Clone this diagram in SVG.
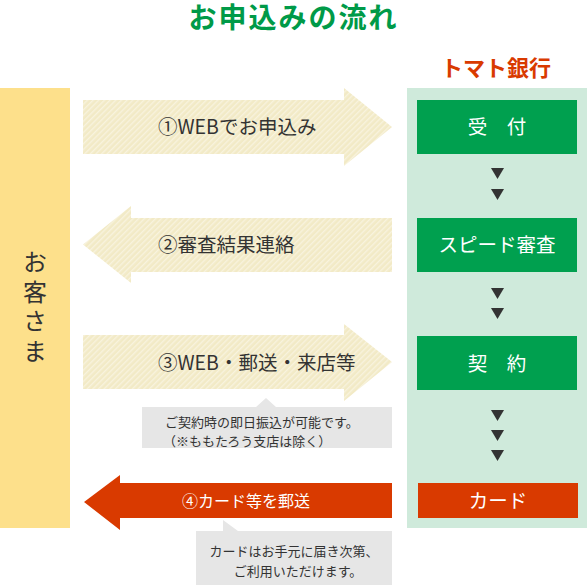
<svg xmlns="http://www.w3.org/2000/svg" width="587" height="585" viewBox="0 0 587 585">
  <style>
    text { font-family: "Noto Sans CJK JP", "Noto Sans", sans-serif; }
    .title { font-size: 28px; font-weight: bold; fill: #009a48; }
    .bank { font-size: 22px; font-weight: bold; fill: #d93a00; }
    .cust { font-size: 24px; fill: #333333; }
    .lbl { font-size: 19.5px; fill: #333333; }
    .wlbl { font-size: 16px; fill: #ffffff; }
    .note { font-size: 13px; fill: #333333; }
    .step { font-size: 19.5px; fill: #ffffff; }
    .gbox { fill: #00a04f; }
    .rbox { fill: #d93a00; }
    .light { fill: url(#stripes); }
    .callout { fill: #e6e6e6; }
    .tri { fill: #333333; }
  </style>
  <defs>
    <pattern id="stripes" width="4" height="4" patternUnits="userSpaceOnUse" patternTransform="rotate(45)">
      <rect width="4" height="4" fill="#f2eac6"/>
      <rect width="1.4" height="4" fill="#f8f3de"/>
    </pattern>
    <polygon id="down" points="-6.5,0 6.5,0 0,11"/>
  </defs>

  <text class="title" x="293.5" y="28" text-anchor="middle" letter-spacing="2">お申込みの流れ</text>

  <g id="customer">
    <rect x="0" y="88" width="70" height="440" fill="#fde08b"/>
    <text class="cust" x="35" y="250" writing-mode="tb" letter-spacing="5.5">お客さま</text>
  </g>

  <g id="bank">
    <rect x="407" y="88" width="180" height="440" fill="#cfeadb"/>
    <text class="bank" x="496" y="76" text-anchor="middle">トマト銀行</text>
  </g>

  <g id="step-uketsuke">
    <rect class="gbox" x="417" y="100" width="160" height="54"/>
    <text class="step" x="497" y="134" text-anchor="middle">受　付</text>
  </g>
  <g id="step-shinsa">
    <rect class="gbox" x="417" y="218" width="160" height="54"/>
    <text class="step" x="497" y="252" text-anchor="middle">スピード審査</text>
  </g>
  <g id="step-keiyaku">
    <rect class="gbox" x="417" y="336" width="160" height="54"/>
    <text class="step" x="497" y="371" text-anchor="middle">契　約</text>
  </g>
  <g id="step-card">
    <rect class="rbox" x="418" y="483" width="160" height="35"/>
    <text class="step" x="498" y="508" text-anchor="middle" font-size="19">カード</text>
  </g>

  <g id="connectors">
    <use href="#down" class="tri" x="497.5" y="168"/>
    <use href="#down" class="tri" x="497.5" y="189"/>
    <use href="#down" class="tri" x="497.5" y="288"/>
    <use href="#down" class="tri" x="497.5" y="308"/>
    <use href="#down" class="tri" x="497.5" y="410"/>
    <use href="#down" class="tri" x="497.5" y="430"/>
    <use href="#down" class="tri" x="497.5" y="450"/>
  </g>

  <g id="arrow1">
    <polygon class="light" points="83,100 344,100 344,88 392,127 344,166 344,154 83,154"/>
    <text class="lbl" x="158" y="134">①WEBでお申込み</text>
  </g>
  <g id="arrow2">
    <polygon class="light" points="392,218 131,218 131,206 83,244.5 131,283 131,272 392,272"/>
    <text class="lbl" x="158" y="252">②審査結果連絡</text>
  </g>
  <g id="arrow3">
    <polygon class="light" points="83,335 344,335 344,324 392,362 344,401 344,389 83,389"/>
    <text class="lbl" x="158" y="370">③WEB・郵送・来店等</text>
  </g>
  <g id="note3">
    <polygon class="callout" points="142,407 256,407 266,398 276,407 392,407 392,448 142,448"/>
    <text class="note"><tspan x="165" y="427">ご契約時の即日振込が可能です。</tspan><tspan x="163" y="446">（※ももたろう支店は除く）</tspan></text>
  </g>
  <g id="arrow4">
    <polygon class="rbox" points="392,483 120,483 120,475 84,502 120,530 120,518 392,518"/>
    <text class="wlbl" x="182" y="507">④カード等を郵送</text>
  </g>
  <g id="note4">
    <polygon class="callout" points="196,531 223,531 223,520 238,531 392,531 392,585 196,585"/>
    <text class="note" text-anchor="middle"><tspan x="294" y="556">カードはお手元に届き次第、</tspan><tspan x="298" y="576">ご利用いただけます。</tspan></text>
  </g>
</svg>
